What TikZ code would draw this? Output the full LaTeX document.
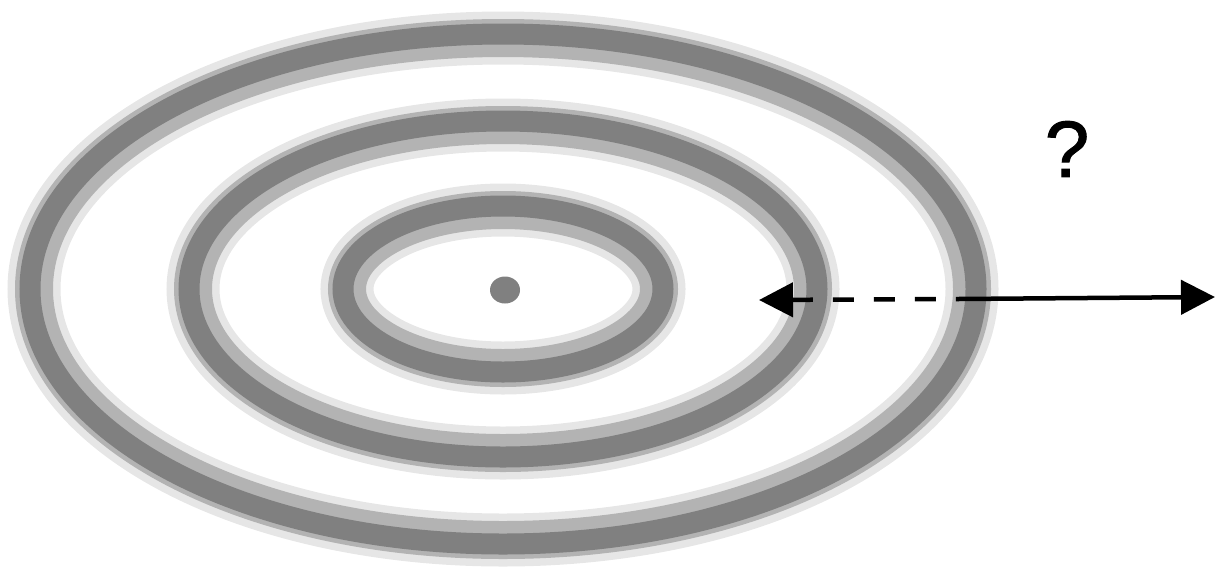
\documentclass[tikz,border=0pt]{standalone}
\usepackage{fontspec}
\setmainfont{Liberation Sans}
\newfontfamily\queryfont[FakeBold=1.2]{Liberation Sans}
\usetikzlibrary{arrows.meta,shapes.geometric}
\definecolor{ringlight}{HTML}{E6E6E6}
\definecolor{ringmid}{HTML}{B3B3B3}
\definecolor{ringdark}{HTML}{808080}
\tikzset{bigtip/.tip={Triangle[length=34pt, width=34pt]}}

\begin{document}
\begin{tikzpicture}[x=1pt, y=-1pt,
    halo/.style={draw=ringlight, line width=53pt},
    band/.style={draw=ringmid, line width=38pt},
    core/.style={draw=ringdark, line width=21pt},
    ptr/.style={line width=4.5pt, draw=black}]
    \useasboundingbox (0,0) rectangle (1215,582);

    % Rings
    \foreach \rx/\ry in {473/255, 314/168, 160/83} {
        \draw[halo] (503,289) ellipse ({\rx-4} and {\ry-4});
        \draw[band] (503,289) ellipse ({\rx-4} and {\ry-4});
        \draw[core] (503,289) ellipse ({\rx} and {\ry});
    }

    % Centre
    \node[ellipse, fill=ringdark, minimum width=30pt, minimum height=27pt, inner sep=0pt] (hub) at (505,290) {};

    % Distance arrow
    \coordinate (near) at (759,300);
    \coordinate (cross) at (958,299);
    \coordinate (far) at (1215,297);
    \draw[ptr, dash pattern=on 21pt off 20pt, bigtip-] (near) -- (cross);
    \draw[ptr, -bigtip] (cross) -- (far);

    % Query
    \node (query) at (1067,149) {\queryfont\fontsize{80}{80}\selectfont ?};
\end{tikzpicture}
\end{document}
